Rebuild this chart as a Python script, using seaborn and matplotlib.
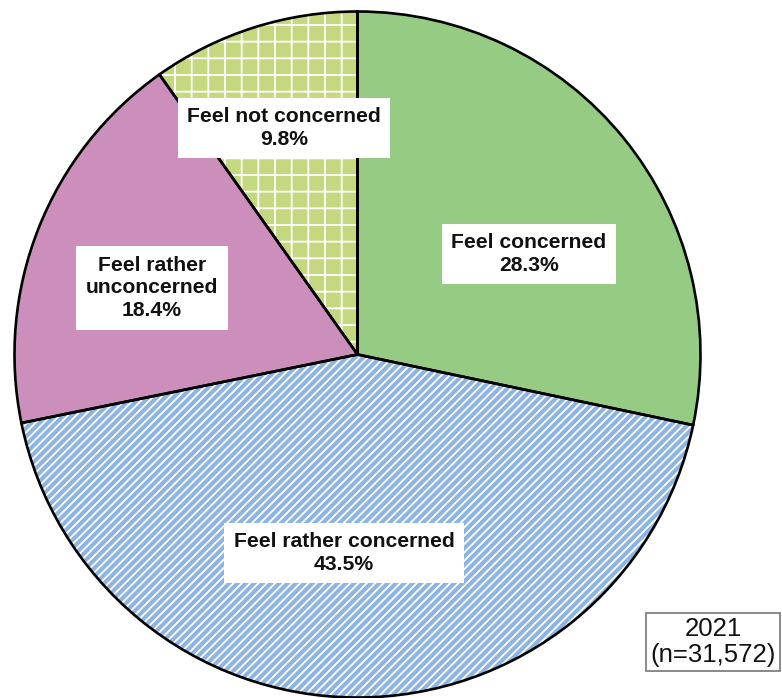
import matplotlib
matplotlib.use("Agg")
import matplotlib.pyplot as plt
import seaborn as sns

sns.set_theme(style="white")
plt.rcParams["font.family"] = ["Liberation Sans", "DejaVu Sans"]
plt.rcParams["hatch.color"] = "white"
plt.rcParams["hatch.linewidth"] = 1.3

# Survey responses (share of respondents, %)
categories = ["Feel concerned", "Feel rather concerned",
              "Feel rather unconcerned", "Feel not concerned"]
shares = [28.3, 43.5, 18.4, 9.8]
label_texts = ["Feel concerned", "Feel rather concerned",
               "Feel rather\nunconcerned", "Feel not concerned"]
colors = ["#95cb83", "#8db4e2", "#cc8fbc", "#c4d97f"]
hatches = [None, "////", None, "+"]
survey_year = "2021"
sample_size = "31,572"

# label anchor points in data units (pie radius = 1)
label_pos = [(0.500, 0.293), (-0.039, -0.579), (-0.599, 0.194), (-0.214, 0.660)]

W, H = 782, 698
cx, cy, R = 357.5, 354.5, 343.0

fig = plt.figure(figsize=(W / 100, H / 100), dpi=100)
ax = fig.add_axes([0, 0, 1, 1])
ax.axis("off")

# filled wedges with white hatching
wedges, _ = ax.pie(shares, colors=colors, startangle=90, counterclock=False,
                   radius=1.0, wedgeprops=dict(linewidth=0, edgecolor="white"))
for w, h in zip(wedges, hatches):
    if h:
        w.set_hatch(h)
        w.set_edgecolor("white")
        w.set_linewidth(0)

# black outlines on top
ax.pie(shares, colors=["none"] * len(shares), startangle=90, counterclock=False,
       radius=1.0, wedgeprops=dict(linewidth=1.9, edgecolor="black", fill=False))
ax.set_aspect("auto")
ax.set_xlim(-cx / R, (W - cx) / R)
ax.set_ylim(-(H - cy) / R, cy / R)

for txt, val, (x, y) in zip(label_texts, shares, label_pos):
    ax.text(x, y, f"{txt}\n{val:.1f}%", ha="center", va="center",
            fontsize=15.2, fontweight="bold", color="#111111", linespacing=1.25,
            bbox=dict(boxstyle="square,pad=0.45", facecolor="white", edgecolor="none"))

fig.text(713 / W, 1 - 642 / H, f"{survey_year}\n(n={sample_size})",
         ha="center", va="center", fontsize=18.5, color="#111111", linespacing=1.1,
         bbox=dict(boxstyle="square,pad=0.15", facecolor="white",
                   edgecolor="#808080", linewidth=1.3))

fig.savefig("out.png", dpi=100)
